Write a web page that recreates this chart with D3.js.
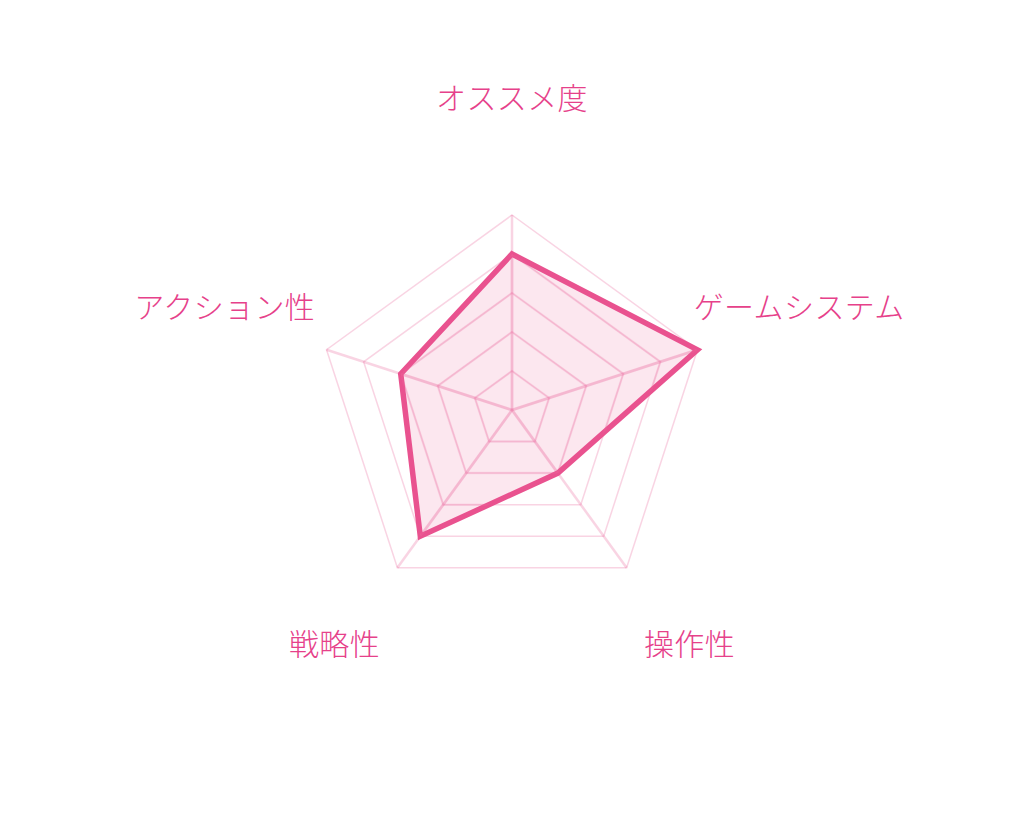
<!DOCTYPE html>
<html>
<head>
<meta charset="utf-8">
<script src="https://cdn.jsdelivr.net/npm/d3@7"></script>
<style>
  html, body { margin: 0; padding: 0; background: #fff; }
  svg { display: block; }
  .axis-label { font-family: "Noto Sans CJK JP", sans-serif; font-weight: 300; font-size: 30px; fill: #e6418a; letter-spacing: 0.4px; }
</style>
</head>
<body>
<svg id="radar" width="1024" height="820"></svg>
<script>
// chart data
const axes = ['オススメ度', 'ゲームシステム', '操作性', '戦略性', 'アクション性'];
const scores = [4, 5, 2, 4, 3];
const levels = [1, 2, 3, 4, 5];

const svg = d3.select('#radar');
const cx = 512, cy = 410;
const radius = 195;
const labelRadius = 302;

const rScale = d3.scaleLinear()
    .domain([0, d3.max(levels)])
    .range([0, radius]);

const angleScale = d3.scaleLinear()
    .domain([0, axes.length])
    .range([0, 2 * Math.PI]);

// point at given axis index and distance (0 angle = straight up)
const pos = (i, r) => {
    const a = angleScale(i);
    return [Math.sin(a) * r, -Math.cos(a) * r];
};

const g = svg.append('g')
    .attr('transform', 'translate(' + cx + ',' + cy + ')');

const ringLine = d3.line().curve(d3.curveLinearClosed);
const dataPts = scores.map((v, i) => pos(i, rScale(v)));

svg.append('defs').append('clipPath')
    .attr('id', 'dataClip')
    .append('path')
    .attr('transform', 'translate(' + cx + ',' + cy + ')')
    .attr('d', ringLine(dataPts));

function drawGrid(sel, ringW, spokeW, color) {
    sel.selectAll('path.ring')
        .data(levels)
        .enter()
        .append('path')
        .attr('class', 'ring')
        .attr('d', lv => ringLine(axes.map((a, i) => pos(i, rScale(lv)))))
        .attr('fill', 'none')
        .attr('stroke', color)
        .attr('stroke-width', ringW);
    sel.selectAll('line.spoke')
        .data(axes)
        .enter()
        .append('line')
        .attr('class', 'spoke')
        .attr('x1', 0).attr('y1', 0)
        .attr('x2', (d, i) => pos(i, radius)[0])
        .attr('y2', (d, i) => pos(i, radius)[1])
        .attr('stroke', color)
        .attr('stroke-width', spokeW);
}

// grid outside
drawGrid(g.append('g'), 1.5, 2.5, 'rgba(233,82,142,0.25)');

// fill
g.append('path')
    .attr('d', ringLine(dataPts))
    .attr('fill', 'rgba(233,82,142,0.14)');

// grid inside the shape is drawn a bit stronger
const inner = svg.append('g').attr('clip-path', 'url(#dataClip)')
    .append('g')
    .attr('transform', 'translate(' + cx + ',' + cy + ')');
drawGrid(inner, 2.5, 3, 'rgba(240,120,170,0.14)');

// outline
g.append('path')
    .attr('d', ringLine(dataPts))
    .attr('fill', 'none')
    .attr('stroke', '#e9528f')
    .attr('stroke-width', 5.5)
    .attr('stroke-linejoin', 'miter');

// labels
g.append('g').selectAll('text')
    .data(axes)
    .enter()
    .append('text')
    .attr('class', 'axis-label')
    .attr('text-anchor', 'middle')
    .attr('x', (d, i) => pos(i, labelRadius)[0])
    .attr('y', (d, i) => pos(i, labelRadius)[1] + 1)
    .text(d => d);
</script>
</body>
</html>
